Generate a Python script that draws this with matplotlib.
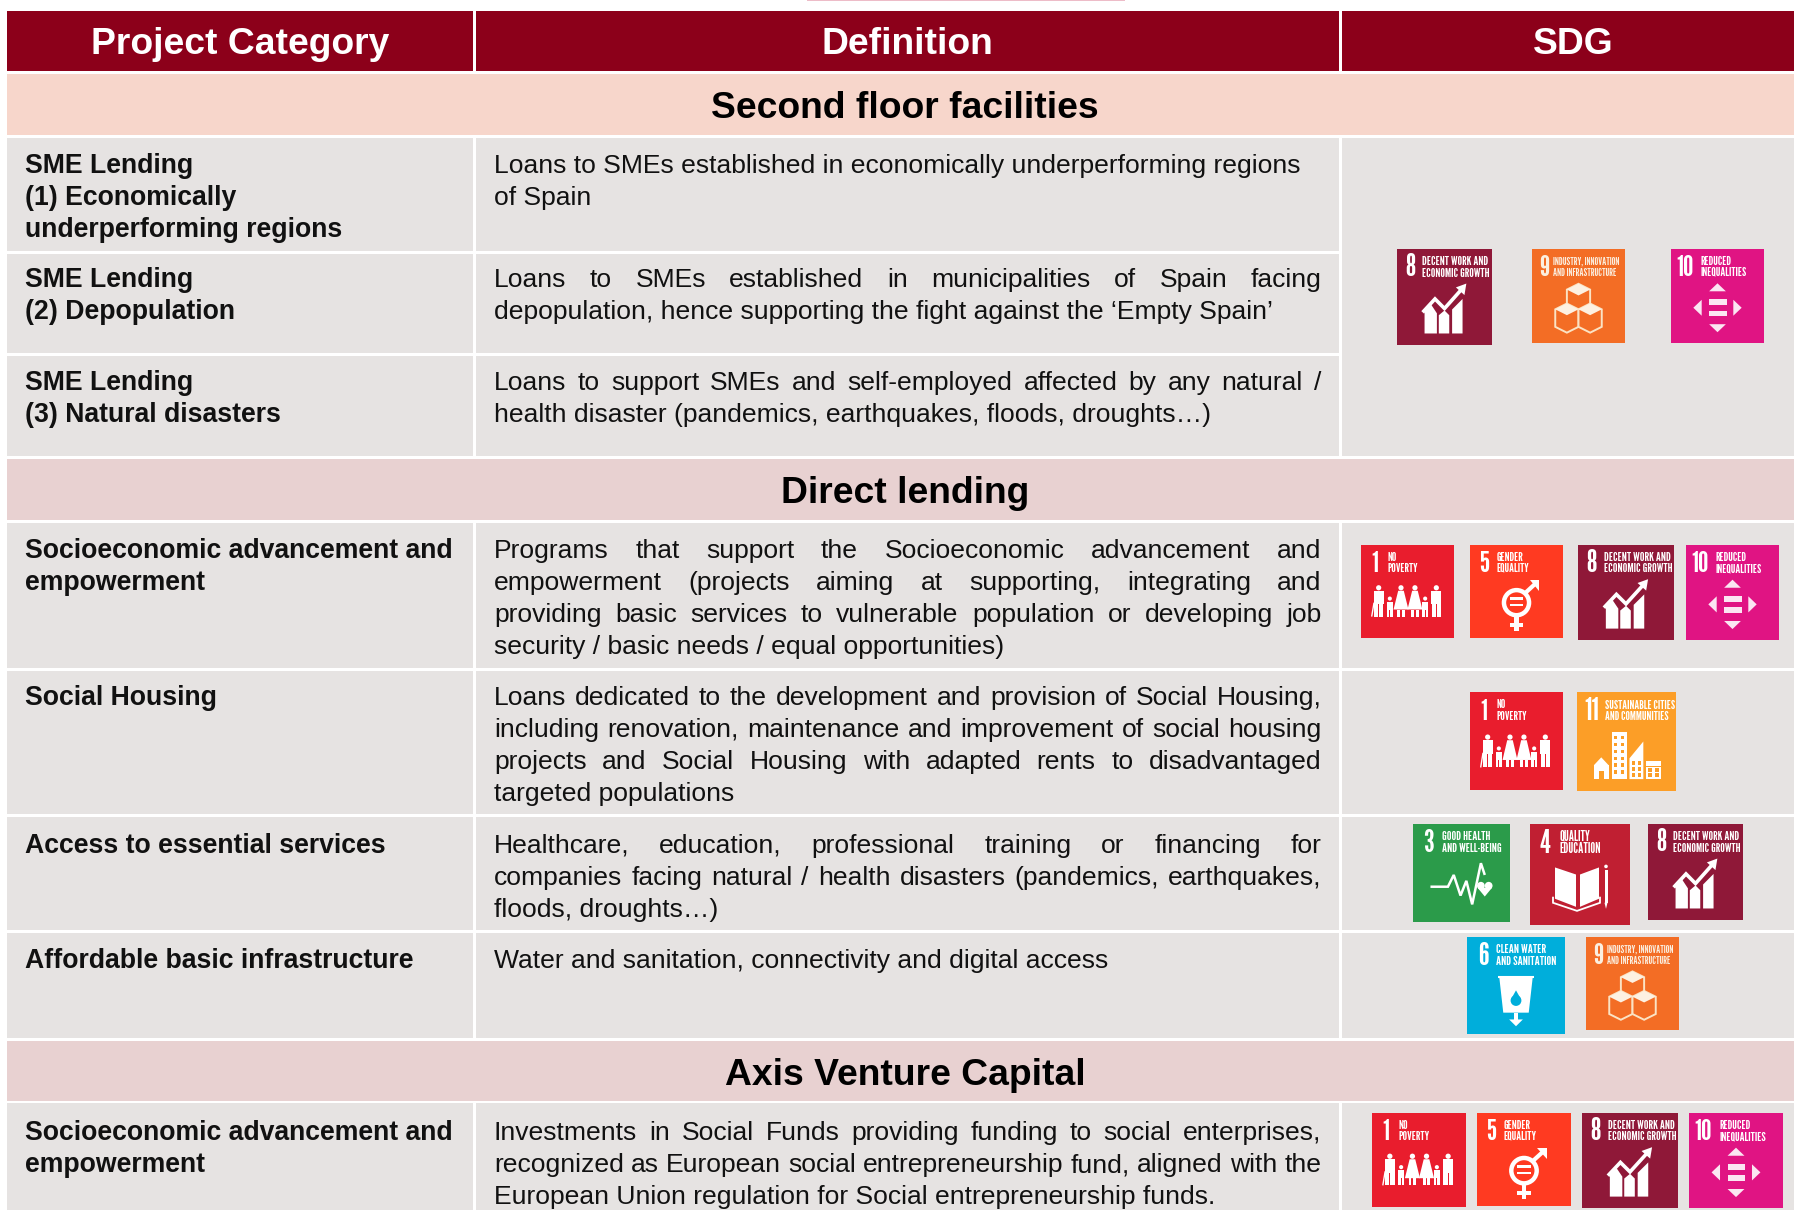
import matplotlib
matplotlib.use("Agg")
import matplotlib.pyplot as plt
from matplotlib import font_manager as fm
from matplotlib.patches import Rectangle, Polygon, Circle

plt.rcParams['font.family'] = ['Liberation Sans', 'DejaVu Sans']
installed = {f.name for f in fm.fontManager.ttflist}
NARROW = [n for n in ['League Gothic', 'Antonio', 'Oswald', 'Liberation Sans'] if n in installed][:1] + ['DejaVu Sans']

# ---------- content ----------
headers = ["Project Category", "Definition", "SDG"]
bands = ["Second floor facilities", "Direct lending", "Axis Venture Capital"]
band_colors = ["#F7D6CB", "#E8D1D1", "#E8D1D1"]

categories = [
    ["SME Lending", "(1) Economically", "underperforming regions"],
    ["SME Lending", "(2) Depopulation"],
    ["SME Lending", "(3) Natural disasters"],
    ["Socioeconomic advancement and", "empowerment"],
    ["Social Housing"],
    ["Access to essential services"],
    ["Affordable basic infrastructure"],
    ["Socioeconomic advancement and", "empowerment"],
]
# (line text, justified?)
definitions = [
    [("Loans to SMEs established in economically underperforming regions", 0), ("of Spain", 0)],
    [("Loans to SMEs established in municipalities of Spain facing", 1),
     ("depopulation, hence supporting the fight against the \u2018Empty Spain\u2019", 0)],
    [("Loans to support SMEs and self-employed affected by any natural /", 1),
     ("health disaster (pandemics, earthquakes, floods, droughts\u2026)", 0)],
    [("Programs that support the Socioeconomic advancement and", 1),
     ("empowerment (projects aiming at supporting, integrating and", 1),
     ("providing basic services to vulnerable population or developing job", 1),
     ("security / basic needs / equal opportunities)", 0)],
    [("Loans dedicated to the development and provision of Social Housing,", 1),
     ("including renovation, maintenance and improvement of social housing", 1),
     ("projects and Social Housing with adapted rents to disadvantaged", 1),
     ("targeted populations", 0)],
    [("Healthcare, education, professional training or financing for", 1),
     ("companies facing natural / health disasters (pandemics, earthquakes,", 1),
     ("floods, droughts\u2026)", 0)],
    [("Water and sanitation, connectivity and digital access", 0)],
    [("Investments in Social Funds providing funding to social enterprises,", 1),
     ("recognized as European social entrepreneurship fund, aligned with the", 1),
     ("European Union regulation for Social entrepreneurship funds.", 0)],
]

goal_colors = {1: "#E91D2D", 3: "#2B9B4A", 4: "#C01F32", 5: "#FF3A21", 6: "#00AEDB",
               8: "#8F1838", 9: "#F36D25", 10: "#E01483", 11: "#FC9E27"}
goal_titles = {1: ["NO", "POVERTY"], 3: ["GOOD HEALTH", "AND WELL-BEING"], 4: ["QUALITY", "EDUCATION"],
               5: ["GENDER", "EQUALITY"], 6: ["CLEAN WATER", "AND SANITATION"],
               8: ["DECENT WORK AND", "ECONOMIC GROWTH"], 9: ["INDUSTRY, INNOVATION", "AND INFRASTRUCTURE"],
               10: ["REDUCED", "INEQUALITIES"], 11: ["SUSTAINABLE CITIES", "AND COMMUNITIES"]}

# ---------- layout (pixels) ----------
W, H = 1794, 1210
C1 = (7, 473); C2 = (476, 1340); C3 = (1342, 1794)
header_y = (11, 71)
header_cx = [240, 907, 1573]
band_y = [(74, 135), (459, 520), (1041, 1101)]
row_y = [(138, 251), (254, 353), (356, 456), (523, 668), (671, 814), (817, 930), (933, 1038), (1103, 1210)]
row_base = [173, 287, 390, 558, 705, 853, 968, 1140]
sdg_cells = [(138, 456), (523, 668), (671, 814), (817, 930), (933, 1038), (1103, 1210)]
tiles = [  # goal, x0, x1, y0, y1
    (8, 1397, 1492, 249, 345), (9, 1532, 1625, 249, 343), (10, 1671, 1764, 249, 343),
    (1, 1361, 1454, 545, 638), (5, 1470, 1563, 545, 638), (8, 1578, 1674, 545, 640), (10, 1686, 1779, 545, 640),
    (1, 1470, 1563, 692, 790), (11, 1577, 1676, 692, 791),
    (3, 1413, 1510, 824, 922), (4, 1530, 1630, 824, 925), (8, 1648, 1743, 824, 920),
    (6, 1467, 1565, 937, 1034), (9, 1586, 1679, 937, 1030),
    (1, 1372, 1466, 1113, 1207), (5, 1477, 1571, 1113, 1206), (8, 1582, 1678, 1113, 1208), (10, 1689, 1783, 1113, 1208),
]
num_x = {1: .115, 3: .107, 4: .10, 5: .097, 6: .109, 8: .09, 9: .075, 10: .054, 11: .074}
title_x = {1: .287, 3: .30, 4: .293, 5: .283, 6: .293, 8: .267, 9: .222, 10: .32, 11: .283}
title_pt = {1: 9, 3: 9, 4: 9, 5: 9, 6: 9, 8: 9, 9: 7.6, 10: 9, 11: 8.4}

HEAD = "#8C001A"; CELL = "#E6E3E2"
BODY_PT = 19.05
BOLD_PT = 19.2
LEAD = 32
TEXT_R = 1321.5

fig = plt.figure(figsize=(W / 100, H / 100), dpi=100, facecolor="white")
ax = fig.add_axes([0, 0, 1, 1])
ax.set_xlim(0, W); ax.set_ylim(H, 0); ax.axis("off")


def rect(x0, x1, y0, y1, c, z=1):
    ax.add_patch(Rectangle((x0, y0), x1 - x0, y1 - y0, fc=c, ec="none", zorder=z))


def justified(line, x0, x1, y):
    words = line.split(" ")
    r = fig.canvas.get_renderer()
    ts = [ax.text(0, y, w, fontsize=BODY_PT, va="baseline", ha="left", color="#111111", zorder=3) for w in words]
    ws = [t.get_window_extent(r).width for t in ts]
    gap = (x1 - x0 - sum(ws)) / (len(words) - 1)
    x = x0
    for t, w in zip(ts, ws):
        t.set_x(x)
        x += w + gap


# ---------- icons (unit square, y down) ----------
def icon(goal, x0, x1, y0, y1):
    fx = lambda u: x0 + u * (x1 - x0)
    fy = lambda v: y0 + v * (y1 - y0)
    s = x1 - x0

    def P(pts, fc="white", ec="none", lw=0):
        ax.add_patch(Polygon([(fx(a), fy(b)) for a, b in pts], closed=True, fc=fc, ec=ec, lw=lw, zorder=5))

    def R(a, b, c, d, fc="white"):
        rect(fx(a), fx(c), fy(b), fy(d), fc, 5)

    def L(pts, lw=2.0, c="white"):
        ax.plot([fx(a) for a, b in pts], [fy(b) for a, b in pts], color=c, lw=lw, zorder=5,
                solid_joinstyle="miter", solid_capstyle="butt")

    def C(a, b, r, fc="white", ec="none", lw=0):
        ax.add_patch(Circle((fx(a), fy(b)), r * s, fc=fc, ec=ec, lw=lw, zorder=5))

    if goal == 8:
        P([(.29, .88), (.29, .63), (.36, .58), (.42, .67), (.42, .88)])
        P([(.44, .88), (.44, .69), (.50, .64), (.55, .69), (.55, .88)])
        P([(.58, .88), (.58, .63), (.69, .52), (.69, .88)])
        L([(.27, .66), (.40, .52), (.50, .62), (.68, .42)], lw=2.6)
        P([(.62, .40), (.73, .36), (.71, .48)])
    elif goal == 9:
        col = "#FBE3C4"
        h = .124
        for cx, cy in [(.50, .494), (.375, .704), (.625, .704)]:
            P([(cx, cy - h), (cx + .125, cy - h / 2), (cx + .125, cy + h), (cx, cy + 1.5 * h),
               (cx - .125, cy + h), (cx - .125, cy - h / 2)], fc=goal_colors[9], ec=col, lw=1.4)
            P([(cx, cy - h), (cx + .125, cy - h / 2), (cx, cy), (cx - .125, cy - h / 2)], fc="#FDF1E2")
    elif goal == 10:
        col = "#FBE6F2"
        P([(.50, .365), (.41, .45), (.59, .45)], fc=col)
        P([(.50, .885), (.41, .80), (.59, .80)], fc=col)
        P([(.24, .625), (.33, .54), (.33, .71)], fc=col)
        P([(.76, .625), (.67, .54), (.67, .71)], fc=col)
        R(.41, .535, .60, .60, col); R(.41, .655, .60, .715, col)
    elif goal == 1:
        yy = lambda v: .45 + (v - .46) * .84
        for cx, tall, dress in [(.19, 1, 0), (.31, 0, 0), (.43, 1, 1), (.58, 1, 1), (.69, 0, 0), (.81, 1, 0)]:
            if tall:
                C(cx, yy(.46) + .01, .028)
                if dress:
                    P([(cx - .03, yy(.51)), (cx + .03, yy(.51)), (cx + .08, yy(.75)), (cx - .08, yy(.75))])
                    R(cx - .04, yy(.75), cx - .01, yy(.84)); R(cx + .01, yy(.75), cx + .04, yy(.84))
                else:
                    R(cx - .055, yy(.51), cx + .055, yy(.68))
                    R(cx - .05, yy(.68), cx - .005, yy(.84)); R(cx + .005, yy(.68), cx + .05, yy(.84))
            else:
                C(cx, yy(.61), .022)
                R(cx - .035, yy(.65), cx + .035, yy(.75))
                R(cx - .03, yy(.75), cx - .004, yy(.84)); R(cx + .004, yy(.75), cx + .03, yy(.84))
        L([(.115, .77), (.14, .62)], lw=1.0)
    elif goal == 5:
        ax.add_patch(Circle((fx(.50), fy(.62)), .135 * s, fc="none", ec="white", lw=3.2, zorder=5))
        R(.43, .56, .57, .59); R(.43, .63, .57, .66)
        L([(.59, .52), (.72, .40)], lw=3)
        P([(.64, .38), (.74, .38), (.74, .49)])
        R(.475, .76, .525, .92); R(.43, .84, .57, .88)
    elif goal == 6:
        P([(.33, .42), (.67, .42), (.63, .78), (.37, .78)])
        L([(.32, .41), (.68, .41)], lw=1.5)
        C(.50, .655, .055, fc=goal_colors[6])
        P([(.50, .55), (.55, .64), (.45, .64)], fc=goal_colors[6])
        R(.475, .78, .525, .87)
        P([(.43, .85), (.57, .85), (.50, .92)])
    elif goal == 4:
        P([(.25, .43), (.46, .50), (.46, .82), (.25, .74)])
        P([(.50, .50), (.69, .43), (.69, .74), (.50, .82)])
        L([(.23, .72), (.23, .78), (.47, .86), (.70, .78), (.70, .72)], lw=1.3)
        R(.745, .46, .775, .78)
        P([(.745, .78), (.775, .78), (.76, .84)])
        C(.76, .42, .018)
    elif goal == 3:
        L([(.18, .64), (.36, .64), (.42, .52), (.49, .73), (.55, .58), (.61, .82), (.70, .40), (.74, .52)], lw=1.8)
        C(.70, .63, .04); C(.78, .63, .04)
        P([(.665, .65), (.815, .65), (.74, .74)])
    elif goal == 11:
        R(.17, .74, .32, .88); R(.22, .80, .27, .88, goal_colors[11])
        P([(.17, .74), (.245, .66), (.32, .74)])
        R(.35, .40, .50, .88)
        P([(.53, .88), (.53, .67), (.67, .50), (.67, .88)])
        R(.70, .70, .85, .88)
        for cx in (.39, .46):
            for cy in (.46, .53, .60, .67, .74, .81):
                R(cx - .018, cy - .018, cx + .018, cy + .018, goal_colors[11])
        for cx in (.57, .63):
            for cy in (.72, .78, .84):
                R(cx - .018, cy - .018, cx + .018, cy + .018, goal_colors[11])
        R(.70, .745, .85, .76, goal_colors[11])
        for cx in (.74, .81):
            for cy in (.79, .84):
                R(cx - .02, cy - .018, cx + .02, cy + .018, goal_colors[11])


def tile(goal, x0, x1, y0, y1):
    rect(x0, x1, y0, y1, goal_colors[goal], 4)
    w, h = x1 - x0, y1 - y0
    tcol = "#FBEFE0" if goal == 9 else "white"
    ax.text(x0 + num_x[goal] * w, y0 + .285 * h, str(goal), family=NARROW,
            fontsize=21 * w / 93, color=tcol, va="baseline", ha="left", zorder=6)
    for k, t in enumerate(goal_titles[goal]):
        ax.text(x0 + title_x[goal] * w, y0 + (.167 + .12 * k) * h, t, family=NARROW,
                fontsize=title_pt[goal] * w / 93, color=tcol, va="baseline", ha="left", zorder=6)
    icon(goal, x0, x1, y0, y1)


# ---------- draw ----------
rect(807, 1125, 0, 1.2, "#EDBCC8")
for (a, b), cx, label in zip((C1, (C2[0], C3[0] - 3), C3), header_cx, headers):
    rect(a, b, *header_y, HEAD)
    ax.text(cx, 54, label, color="white", fontsize=26.8, fontweight="bold", ha="center", va="baseline", zorder=3)

for (a, b), label, c in zip(band_y, bands, band_colors):
    rect(C1[0], W, a, b, c)
    ax.text(905, a + 44, label, color="black", fontsize=26.85, fontweight="bold", ha="center", va="baseline", zorder=3)

for (a, b), y0, cat, defn in zip(row_y, row_base, categories, definitions):
    rect(*C1, a, b, CELL)
    rect(C2[0], C3[0] - 3, a, b, CELL)
    for k, line in enumerate(cat):
        ax.text(25, y0 + k * LEAD, line, fontsize=BOLD_PT, fontweight="bold", color="#111111",
                ha="left", va="baseline", zorder=3)
    for k, (line, just) in enumerate(defn):
        y = y0 + k * LEAD
        if just:
            justified(line, 494, TEXT_R, y)
        else:
            ax.text(494, y, line, fontsize=BODY_PT, color="#111111", ha="left", va="baseline", zorder=3)

for a, b in sdg_cells:
    rect(*C3, a, b, CELL)
for t in tiles:
    tile(*t)

ax.set_xlim(0, W); ax.set_ylim(H, 0)
fig.savefig("out.png", dpi=100, facecolor="white")
